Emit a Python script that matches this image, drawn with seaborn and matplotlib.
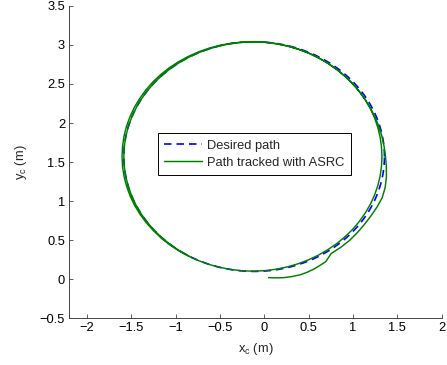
import numpy as np
import pandas as pd
import matplotlib
matplotlib.use("Agg")
import matplotlib.pyplot as plt
import seaborn as sns

# Axis ticks
x_ticks = [-2, -1.5, -1, -0.5, 0, 0.5, 1, 1.5, 2]
y_ticks = [-0.5, 0, 0.5, 1, 1.5, 2, 2.5, 3, 3.5]

# Reference circle (desired path)
desired_center = (-0.115, 1.57)
desired_radius = 1.47
desired_angle_deg = list(range(0, 362, 2))

# Tracked path in polar form about the desired centre (two laps, counter-clockwise)
start_angle_deg = [276, 279, 282, 285.5, 289, 292, 295, 297, 299, 301, 303]
start_radius = [1.558, 1.572, 1.585, 1.594, 1.600, 1.597, 1.590, 1.583, 1.575, 1.569, 1.540]

lap_angle_deg = list(range(305, 965, 5))
lap_radius = [
    # 305 - 400
    1.515, 1.518, 1.520, 1.518, 1.517, 1.521, 1.529, 1.538, 1.530, 1.515,
    1.497, 1.482, 1.472, 1.465, 1.459, 1.455, 1.452, 1.450, 1.450, 1.450,
    # 405 - 500
    1.451, 1.452, 1.455, 1.458, 1.461, 1.463, 1.465, 1.467, 1.469, 1.470,
    1.472, 1.474, 1.476, 1.478, 1.480, 1.482, 1.484, 1.486, 1.488, 1.489,
    # 505 - 600
    1.490, 1.490, 1.491, 1.491, 1.491, 1.491, 1.490, 1.490, 1.490, 1.489,
    1.488, 1.487, 1.486, 1.484, 1.482, 1.480, 1.479, 1.477, 1.476, 1.474,
    # 605 - 700
    1.472, 1.471, 1.470, 1.469, 1.468, 1.467, 1.465, 1.463, 1.461, 1.459,
    1.457, 1.455, 1.453, 1.452, 1.451, 1.450, 1.448, 1.447, 1.446, 1.445,
    # 705 - 800
    1.444, 1.443, 1.442, 1.442, 1.442, 1.443, 1.444, 1.446, 1.447, 1.449,
    1.450, 1.452, 1.453, 1.455, 1.456, 1.458, 1.460, 1.462, 1.464, 1.466,
    # 805 - 900
    1.468, 1.469, 1.470, 1.470, 1.470, 1.470, 1.470, 1.470, 1.470, 1.470,
    1.470, 1.470, 1.470, 1.470, 1.470, 1.470, 1.470, 1.470, 1.470, 1.470,
    # 905 - 960
    1.470, 1.470, 1.470, 1.470, 1.470, 1.470, 1.470, 1.470, 1.470, 1.470,
    1.470, 1.470,
]

track_angle_deg = start_angle_deg + lap_angle_deg
track_radius = start_radius + lap_radius


def polar_to_xy(angles_deg, radii, center):
    a = np.deg2rad(np.asarray(angles_deg, dtype=float))
    r = np.asarray(radii, dtype=float)
    return center[0] + r * np.cos(a), center[1] + r * np.sin(a)


dx, dy = polar_to_xy(desired_angle_deg, [desired_radius] * len(desired_angle_deg), desired_center)
tx, ty = polar_to_xy(track_angle_deg, track_radius, desired_center)
desired_df = pd.DataFrame({"x": dx, "y": dy})
track_df = pd.DataFrame({"x": tx, "y": ty})

sns.set_style("ticks")
plt.rcParams["font.family"] = ["Liberation Sans", "DejaVu Sans"]
plt.rcParams["mathtext.default"] = "regular"
plt.rcParams["xtick.direction"] = "in"
plt.rcParams["ytick.direction"] = "in"

fig = plt.figure(figsize=(4.47, 3.65), dpi=100)
ax = fig.add_axes([0.155, 0.128, 0.833, 0.856])

sns.lineplot(data=desired_df, x="x", y="y", sort=False, estimator=None,
             color=(0, 0, 1), linewidth=1.2, label="Desired path", ax=ax)
ax.lines[-1].set_dashes([4.5, 3])
sns.lineplot(data=track_df, x="x", y="y", sort=False, estimator=None,
             color=(0, 0.5, 0), linewidth=1.05, label="Path tracked with ASRC", ax=ax)

ax.set_xlim(-2.2, 2.0)
ax.set_ylim(-0.5, 3.5)
ax.set_xticks(x_ticks)
ax.set_yticks(y_ticks)
ax.set_xticklabels([f"{v:g}".replace("-", "\u2212") for v in x_ticks])
ax.set_yticklabels([f"{v:g}".replace("-", "\u2212") for v in y_ticks])
ax.tick_params(axis="both", labelsize=9.3, length=3, width=0.6, color="#444444",
               pad=3, labelcolor="black")
for side in ("top", "right"):
    ax.spines[side].set_visible(False)
for side in ("left", "bottom"):
    ax.spines[side].set_color("#444444")
    ax.spines[side].set_linewidth(0.7)

ax.set_xlabel("x$_c$ (m)", fontsize=9.3, labelpad=5)
ax.set_ylabel("y$_c$ (m)", fontsize=9.3, labelpad=8)

leg = ax.legend(loc="upper left", bbox_to_anchor=(0.238, 0.593), borderaxespad=0,
                fontsize=9.3, handlelength=2.9, handletextpad=0.4,
                borderpad=0.5, labelspacing=0.4, fancybox=False, framealpha=1)
leg.get_frame().set_edgecolor("black")
leg.get_frame().set_linewidth(0.7)

fig.savefig("out.png", dpi=100)
